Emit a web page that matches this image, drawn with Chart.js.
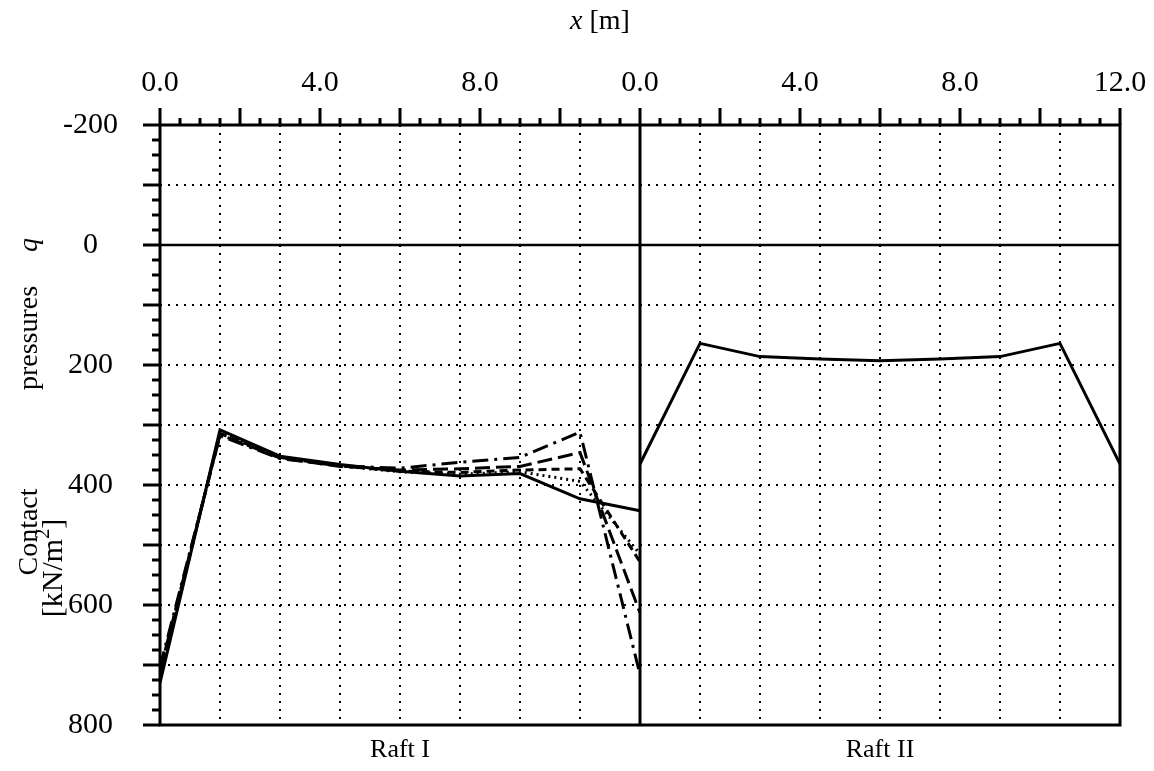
<!DOCTYPE html>
<html>
<head>
<meta charset="utf-8">
<title>Contact pressures - Raft I / Raft II</title>
<script src="https://cdn.jsdelivr.net/npm/chart.js@4.4.0/dist/chart.umd.min.js"></script>
<style>
  html, body { margin: 0; padding: 0; background: #fff; }
</style>
</head>
<body>
<canvas id="chart" width="1154" height="771"></canvas>
<script>
// Node positions along each raft [m]
const positions = [0, 1.5, 3, 4.5, 6, 7.5, 9, 10.5, 12];
// Raft II is drawn to the right of Raft I on one shared x scale
const raftLength = 12;

// Contact pressures q [kN/m2], Raft I (five cases) and Raft II
const raftISolid = [730, 308, 352, 366, 377, 385, 381, 423, 443];
const raftIDotted = [722, 312, 354, 368, 378, 382, 378, 394, 515];
const raftIShortDash = [715, 314, 354, 368, 377, 379, 375, 373, 528];
const raftILongDash = [710, 316, 355, 369, 375, 373, 369, 346, 613];
const raftIDashDot = [703, 318, 356, 368, 372, 362, 354, 312, 716];
const raftII = [365, 164, 186, 190, 193, 190, 186, 164, 365];

// Tick labels on the top axis (shared scale values -> printed text)
const xTickValues = [0, 4, 8, 12, 16, 20, 24];
const xTickLabels = ["0.0", "4.0", "8.0", "0.0", "4.0", "8.0", "12.0"];
const yTickValues = [-200, 0, 200, 400, 600, 800];

const FONT = "'Liberation Serif', 'Times New Roman', serif";

function toPoints(xs, ys, offset) {
  return xs.map((x, i) => ({ x: x + offset, y: ys[i] }));
}

function lineDataset(label, xs, ys, offset, dash) {
  return {
    label,
    data: toPoints(xs, ys, offset),
    borderColor: "#000",
    borderWidth: 3,
    borderDash: dash,
    pointRadius: 0,
    tension: 0,
    fill: false,
  };
}

// dotted grid, heavy frame, tick marks and free text
const raftDecorations = {
  id: "raftDecorations",
  beforeDatasetsDraw(chart) {
    const { ctx, chartArea: a, scales: { x, y } } = chart;
    ctx.save();
    ctx.strokeStyle = "#000";
    ctx.lineWidth = 2;
    ctx.setLineDash([2, 6]);
    for (let v = 1.5; v < 2 * raftLength; v += 1.5) {
      if (v === raftLength) continue;
      const px = Math.round(x.getPixelForValue(v));
      ctx.beginPath();
      ctx.moveTo(px, a.top);
      ctx.lineTo(px, a.bottom);
      ctx.stroke();
    }
    for (let v = -100; v < 800; v += 100) {
      if (v === 0) continue;
      const py = Math.round(y.getPixelForValue(v));
      ctx.beginPath();
      ctx.moveTo(a.left, py);
      ctx.lineTo(a.right, py);
      ctx.stroke();
    }
    ctx.restore();
  },
  afterDatasetsDraw(chart) {
    const { ctx, chartArea: a, scales: { x, y } } = chart;
    ctx.save();
    ctx.strokeStyle = "#000";
    ctx.setLineDash([]);

    // zero line
    ctx.lineWidth = 2.5;
    const y0 = y.getPixelForValue(0);
    ctx.beginPath();
    ctx.moveTo(a.left, y0);
    ctx.lineTo(a.right, y0);
    ctx.stroke();

    // frame and raft divider
    ctx.lineWidth = 3;
    const xm = x.getPixelForValue(raftLength);
    ctx.beginPath();
    ctx.rect(a.left, a.top, a.right - a.left, a.bottom - a.top);
    ctx.moveTo(xm, a.top);
    ctx.lineTo(xm, a.bottom);
    ctx.stroke();

    // top ticks: major every 2 m, minor every 0.5 m
    ctx.beginPath();
    for (let v = 0; v <= 2 * raftLength + 1e-9; v += 0.5) {
      const px = x.getPixelForValue(v);
      const len = Math.abs(v % 2) < 1e-9 ? 17 : 7;
      ctx.moveTo(px, a.top);
      ctx.lineTo(px, a.top - len);
    }
    // left ticks: long every 100, short every 25
    for (let v = -200; v <= 800; v += 25) {
      const py = y.getPixelForValue(v);
      const len = v % 100 === 0 ? 17 : 8;
      ctx.moveTo(a.left, py);
      ctx.lineTo(a.left - len, py);
    }
    ctx.stroke();
    ctx.restore();
  },
  afterDraw(chart) {
    const { ctx, scales: { x } } = chart;
    ctx.save();
    ctx.fillStyle = "#000";
    ctx.textBaseline = "middle";
    ctx.textAlign = "center";

    // raft names under the plot
    ctx.font = `26px ${FONT}`;
    ctx.fillText("Raft I", x.getPixelForValue(raftLength / 2), 750);
    ctx.fillText("Raft II", x.getPixelForValue(raftLength * 1.5), 750);

    // x axis title "x [m]"
    ctx.textAlign = "left";
    ctx.font = `italic 28px ${FONT}`;
    const xw = ctx.measureText("x").width;
    ctx.font = `28px ${FONT}`;
    const restW = ctx.measureText(" [m]").width;
    const tx = 600 - (xw + restW) / 2;
    ctx.font = `italic 28px ${FONT}`;
    ctx.fillText("x", tx, 22);
    ctx.font = `28px ${FONT}`;
    ctx.fillText(" [m]", tx + xw, 22);

    // y axis title, rotated to read bottom-up
    ctx.rotate(-Math.PI / 2);
    ctx.textAlign = "center";
    ctx.font = `28px ${FONT}`;
    ctx.fillText("Contact", -532, 30);
    ctx.fillText("pressures", -338, 30);
    ctx.font = `italic 28px ${FONT}`;
    ctx.fillText("q", -245, 30);
    ctx.font = `30px ${FONT}`;
    const unitA = "[kN/m";
    const unitB = "]";
    const wA = ctx.measureText(unitA).width;
    const wB = ctx.measureText(unitB).width;
    ctx.font = `20px ${FONT}`;
    const w2 = ctx.measureText("2").width;
    const ux = -568 - (wA + w2 + wB) / 2;
    ctx.textAlign = "left";
    ctx.font = `30px ${FONT}`;
    ctx.fillText(unitA, ux, 54);
    ctx.font = `20px ${FONT}`;
    ctx.fillText("2", ux + wA, 44);
    ctx.font = `30px ${FONT}`;
    ctx.fillText(unitB, ux + wA + w2, 54);
    ctx.restore();
  },
};

new Chart(document.getElementById("chart"), {
  type: "line",
  data: {
    datasets: [
      lineDataset("Raft I solid", positions, raftISolid, 0, []),
      lineDataset("Raft I dotted", positions, raftIDotted, 0, [2, 4]),
      lineDataset("Raft I short dash", positions, raftIShortDash, 0, [8, 5]),
      lineDataset("Raft I long dash", positions, raftILongDash, 0, [15, 6]),
      lineDataset("Raft I dash-dot", positions, raftIDashDot, 0, [16, 6, 3, 6]),
      lineDataset("Raft II", positions, raftII, raftLength, []),
    ],
  },
  plugins: [raftDecorations],
  options: {
    responsive: false,
    animation: false,
    devicePixelRatio: 1,
    layout: { padding: { left: 0, top: 0, right: 34, bottom: 46 } },
    plugins: {
      legend: { display: false },
      tooltip: { enabled: false },
    },
    scales: {
      x: {
        type: "linear",
        position: "top",
        min: 0,
        max: 2 * raftLength,
        afterFit(scale) {
          scale.height = 125;
          scale.paddingLeft = 0;
          scale.paddingRight = 0;
        },
        afterBuildTicks(scale) {
          scale.ticks = xTickValues.map((v) => ({ value: v }));
        },
        grid: { display: false, drawTicks: false },
        border: { display: false },
        ticks: {
          autoSkip: false,
          maxRotation: 0,
          padding: 24,
          color: "#000",
          font: { family: FONT, size: 30 },
          callback(value) {
            const i = xTickValues.indexOf(value);
            return i >= 0 ? xTickLabels[i] : "";
          },
        },
      },
      y: {
        type: "linear",
        reverse: true,
        min: -200,
        max: 800,
        afterFit(scale) {
          scale.width = 160;
          scale.paddingTop = 0;
          scale.paddingBottom = 0;
        },
        afterBuildTicks(scale) {
          scale.ticks = yTickValues.map((v) => ({ value: v }));
        },
        grid: { display: false, drawTicks: false },
        border: { display: false },
        ticks: {
          crossAlign: "center",
          padding: 42,
          color: "#000",
          font: { family: FONT, size: 30 },
          callback(value) {
            return String(value);
          },
        },
      },
    },
  },
});
</script>
</body>
</html>
